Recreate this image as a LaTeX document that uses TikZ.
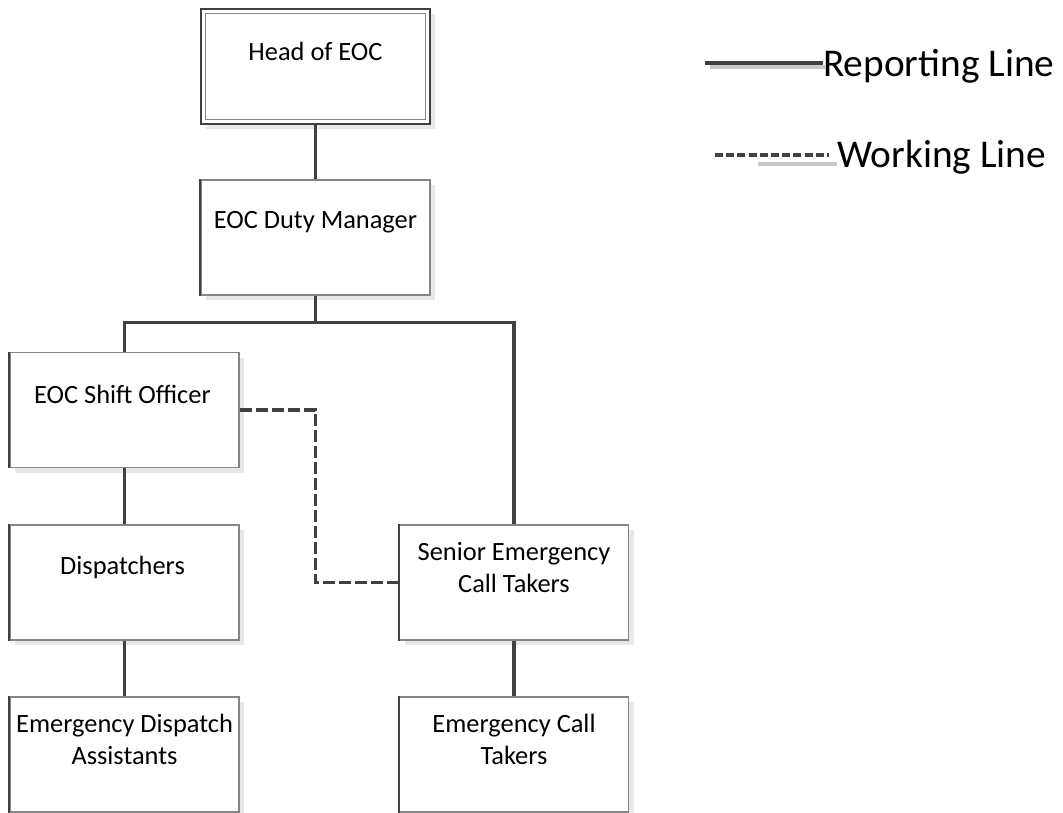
\documentclass[tikz,border=0pt]{standalone}
\usepackage{fontspec}
\setmainfont{Carlito}
\usetikzlibrary{shadows,calc}
\definecolor{conn}{HTML}{404040}
\definecolor{edge}{HTML}{858585}
\definecolor{shade}{HTML}{E8E8E8}
\definecolor{legshade}{HTML}{C8C8C8}
\begin{document}
\begin{tikzpicture}[x=0.75pt,y=-0.75pt,
  box/.style={draw=edge, line width=1.1pt, fill=white, minimum width=171.75pt, minimum height=86.25pt, inner sep=0pt,
    general shadow={fill=shade, shadow xshift=3.75pt, shadow yshift=-3.75pt}},
  leftedge/.style={draw=conn, line width=1.3pt},
  lbl/.style={font=\fontsize{19.8}{24}\selectfont, align=center, inner sep=0pt},
  legtext/.style={font=\fontsize{29.5}{34}\selectfont, anchor=west, inner sep=0pt},
  rep/.style={draw=conn, line width=2.6pt},
  work/.style={draw=conn, line width=2.6pt, dash pattern=on 9pt off 3pt},
]
\useasboundingbox (0,0) rectangle (1063,813);

% boxes
\node[box, draw=conn] (head) at (315.5,66.5) {};
\draw[edge, line width=1.1pt] ($(head.north west)+(5,5)$) rectangle ($(head.south east)+(-5,-5)$);
\node[box] (duty) at (315.5,237.5) {};
\node[box] (shift) at (124.5,410) {};
\node[box] (disp) at (124.5,582.5) {};
\node[box] (eda) at (124.5,754.5) {};
\node[box] (senior) at (514,582.5) {};
\node[box] (ect) at (514,754.5) {};

\foreach \b in {duty,shift,disp,eda,senior,ect}{
  \draw[leftedge] (\b.north west) -- (\b.south west);
}

% labels
\node[lbl] (headt) at ($(head.north)+(0,43)$) {Head of EOC};
\node[lbl] (dutyt) at ($(duty.north)+(0,43)$) {EOC Duty Manager};
\node[lbl] (shiftt) at ($(shift.north)+(-2,43)$) {EOC Shift Officer};
\node[lbl] (dispt) at ($(disp.north)+(-2,43)$) {Dispatchers};
\node[lbl] (edat) at ($(eda.north)+(0,43)$) {Emergency Dispatch\\Assistants};
\node[lbl] (seniort) at ($(senior.north)+(0,43)$) {Senior Emergency\\Call Takers};
\node[lbl] (ectt) at ($(ect.north)+(0,43)$) {Emergency Call\\Takers};

% reporting lines
\draw[rep] (head.south) -- (duty.north);
\coordinate (bar) at ($(duty.south)+(0,27)$);
\draw[rep] (duty.south) -- (bar) -| (shift.north);
\draw[rep] (bar) -| (senior.north);
\draw[rep] (shift.south) -- (disp.north);
\draw[rep] (disp.south) -- (eda.north);
\draw[rep] (senior.south) -- (ect.north);

% working line
\draw[work] (shift.east) -- (shift.east -| duty.south) |- (senior.west);

% legend
\node[legtext] (repl) at (823,66) {Reporting Line};
\node[legtext] (workl) at (837,157) {Working Line};
\coordinate (rs) at (705,63);
\coordinate (ws) at (715,155);
\draw[legshade, line width=2.4pt] ($(rs)+(5,4)$) -- ($(repl.west |- rs)+(3,4)$);
\draw[conn, line width=2.8pt] (rs) -- (repl.west |- rs);
\draw[legshade, line width=2.4pt] ($(ws)+(43,9)$) -- ($(workl.west |- ws)+(0,9)$);
\draw[conn, line width=2.8pt, dash pattern=on 6pt off 2.4pt] (ws) -- ($(workl.west |- ws)+(-8,0)$);
\end{tikzpicture}
\end{document}
